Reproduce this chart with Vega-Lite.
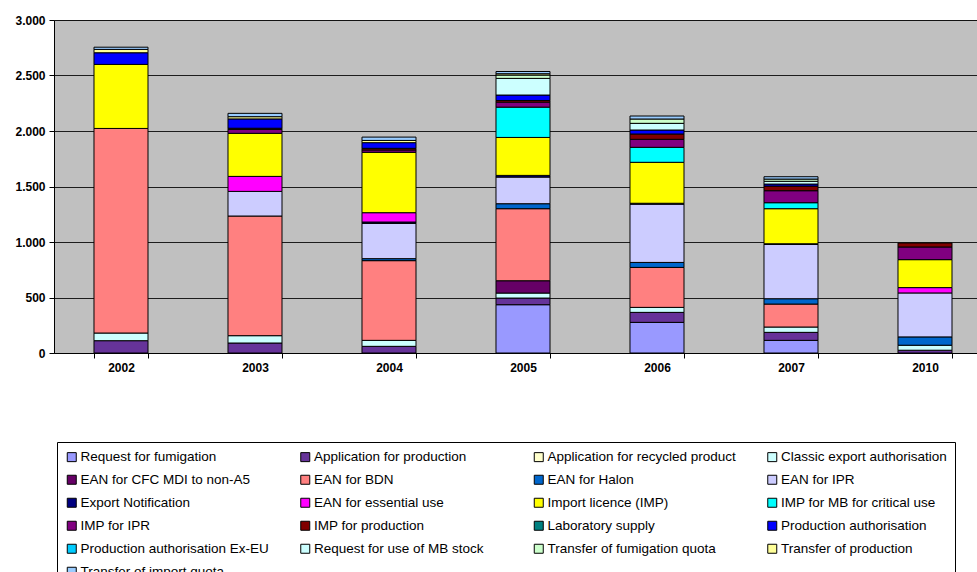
{
  "$schema": "https://vega.github.io/schema/vega-lite/v6.json",
  "width": 938,
  "height": 333,
  "autosize": "none",
  "padding": {"left": 54, "top": 20, "right": 0, "bottom": 219},
  "background": "white",
  "config": {"view": {"fill": "#C0C0C0", "stroke": "#808080"}, "font": "Liberation Sans"},
  "data": {"values": [
    {"year": "2002", "type": "Application for production", "value": 111},
    {"year": "2002", "type": "Classic export authorisation", "value": 69},
    {"year": "2002", "type": "EAN for BDN", "value": 1843},
    {"year": "2002", "type": "Import licence (IMP)", "value": 577},
    {"year": "2002", "type": "Production authorisation", "value": 105},
    {"year": "2002", "type": "Transfer of production", "value": 30},
    {"year": "2002", "type": "Transfer of import quota", "value": 20},
    {"year": "2003", "type": "Application for production", "value": 90},
    {"year": "2003", "type": "Classic export authorisation", "value": 66},
    {"year": "2003", "type": "EAN for BDN", "value": 1078},
    {"year": "2003", "type": "EAN for IPR", "value": 222},
    {"year": "2003", "type": "EAN for essential use", "value": 135},
    {"year": "2003", "type": "Import licence (IMP)", "value": 388},
    {"year": "2003", "type": "IMP for IPR", "value": 36},
    {"year": "2003", "type": "IMP for production", "value": 10},
    {"year": "2003", "type": "Production authorisation", "value": 84},
    {"year": "2003", "type": "Transfer of production", "value": 20},
    {"year": "2003", "type": "Transfer of import quota", "value": 30},
    {"year": "2004", "type": "Application for production", "value": 60},
    {"year": "2004", "type": "Classic export authorisation", "value": 54},
    {"year": "2004", "type": "EAN for BDN", "value": 718},
    {"year": "2004", "type": "EAN for Halon", "value": 18},
    {"year": "2004", "type": "EAN for IPR", "value": 318},
    {"year": "2004", "type": "Export Notification", "value": 12},
    {"year": "2004", "type": "EAN for essential use", "value": 84},
    {"year": "2004", "type": "Import licence (IMP)", "value": 544},
    {"year": "2004", "type": "IMP for IPR", "value": 21},
    {"year": "2004", "type": "IMP for production", "value": 15},
    {"year": "2004", "type": "Production authorisation", "value": 51},
    {"year": "2004", "type": "Transfer of production", "value": 20},
    {"year": "2004", "type": "Transfer of import quota", "value": 30},
    {"year": "2005", "type": "Request for fumigation", "value": 435},
    {"year": "2005", "type": "Application for production", "value": 60},
    {"year": "2005", "type": "Classic export authorisation", "value": 45},
    {"year": "2005", "type": "EAN for CFC MDI to non-A5", "value": 111},
    {"year": "2005", "type": "EAN for BDN", "value": 649},
    {"year": "2005", "type": "EAN for Halon", "value": 45},
    {"year": "2005", "type": "EAN for IPR", "value": 240},
    {"year": "2005", "type": "Export Notification", "value": 15},
    {"year": "2005", "type": "Import licence (IMP)", "value": 342},
    {"year": "2005", "type": "IMP for MB for critical use", "value": 273},
    {"year": "2005", "type": "IMP for IPR", "value": 45},
    {"year": "2005", "type": "IMP for production", "value": 15},
    {"year": "2005", "type": "Production authorisation", "value": 49},
    {"year": "2005", "type": "Request for use of MB stock", "value": 150},
    {"year": "2005", "type": "Transfer of fumigation quota", "value": 30},
    {"year": "2005", "type": "Transfer of production", "value": 12},
    {"year": "2005", "type": "Transfer of import quota", "value": 20},
    {"year": "2006", "type": "Request for fumigation", "value": 276},
    {"year": "2006", "type": "Application for production", "value": 90},
    {"year": "2006", "type": "Classic export authorisation", "value": 45},
    {"year": "2006", "type": "EAN for BDN", "value": 360},
    {"year": "2006", "type": "EAN for Halon", "value": 45},
    {"year": "2006", "type": "EAN for IPR", "value": 525},
    {"year": "2006", "type": "Export Notification", "value": 8},
    {"year": "2006", "type": "Import licence (IMP)", "value": 369},
    {"year": "2006", "type": "IMP for MB for critical use", "value": 135},
    {"year": "2006", "type": "IMP for IPR", "value": 72},
    {"year": "2006", "type": "IMP for production", "value": 48},
    {"year": "2006", "type": "Production authorisation", "value": 36},
    {"year": "2006", "type": "Request for use of MB stock", "value": 60},
    {"year": "2006", "type": "Transfer of fumigation quota", "value": 39},
    {"year": "2006", "type": "Transfer of import quota", "value": 27},
    {"year": "2007", "type": "Request for fumigation", "value": 114},
    {"year": "2007", "type": "Application for production", "value": 72},
    {"year": "2007", "type": "Classic export authorisation", "value": 48},
    {"year": "2007", "type": "EAN for BDN", "value": 207},
    {"year": "2007", "type": "EAN for Halon", "value": 48},
    {"year": "2007", "type": "EAN for IPR", "value": 490},
    {"year": "2007", "type": "Export Notification", "value": 5},
    {"year": "2007", "type": "Import licence (IMP)", "value": 316},
    {"year": "2007", "type": "IMP for MB for critical use", "value": 54},
    {"year": "2007", "type": "IMP for IPR", "value": 108},
    {"year": "2007", "type": "IMP for production", "value": 42},
    {"year": "2007", "type": "Production authorisation", "value": 18},
    {"year": "2007", "type": "Request for use of MB stock", "value": 25},
    {"year": "2007", "type": "Transfer of fumigation quota", "value": 20},
    {"year": "2007", "type": "Transfer of import quota", "value": 21},
    {"year": "2010", "type": "Application for production", "value": 25},
    {"year": "2010", "type": "Classic export authorisation", "value": 45},
    {"year": "2010", "type": "EAN for Halon", "value": 75},
    {"year": "2010", "type": "EAN for IPR", "value": 396},
    {"year": "2010", "type": "EAN for essential use", "value": 48},
    {"year": "2010", "type": "Import licence (IMP)", "value": 252},
    {"year": "2010", "type": "IMP for IPR", "value": 114},
    {"year": "2010", "type": "IMP for production", "value": 36}
  ]},
  "transform": [
    {"calculate": "indexof(['Request for fumigation', 'Application for production', 'Application for recycled product', 'Classic export authorisation', 'EAN for CFC MDI to non-A5', 'EAN for BDN', 'EAN for Halon', 'EAN for IPR', 'Export Notification', 'EAN for essential use', 'Import licence (IMP)', 'IMP for MB for critical use', 'IMP for IPR', 'IMP for production', 'Laboratory supply', 'Production authorisation', 'Production authorisation Ex-EU', 'Request for use of MB stock', 'Transfer of fumigation quota', 'Transfer of production', 'Transfer of import quota'], datum.type)", "as": "stackOrder"}
  ],
  "mark": {"type": "bar", "stroke": "#000", "strokeWidth": 1},
  "encoding": {
    "x": {
      "field": "year", "type": "nominal",
      "scale": {"paddingInner": 0.597, "paddingOuter": 0.2985},
      "axis": {"title": null, "labelAngle": 0, "labelFont": "Liberation Sans", "labelFontWeight": "bold", "labelFontSize": 12, "labelColor": "#000", "domainColor": "#000", "tickColor": "#000", "tickBand": "extent", "tickSize": 5, "labelPadding": 4}
    },
    "y": {
      "field": "value", "type": "quantitative", "stack": "zero",
      "scale": {"domain": [0, 3000], "nice": false},
      "axis": {"title": null, "values": [0, 500, 1000, 1500, 2000, 2500, 3000], "labelExpr": "replace(format(datum.value, ','), ',', '.')", "labelFont": "Liberation Sans", "labelFontWeight": "bold", "labelFontSize": 12, "labelColor": "#000", "gridColor": "#000", "gridOpacity": 0.85, "domainColor": "#000", "tickColor": "#000", "tickSize": 5, "labelPadding": 4}
    },
    "order": {"field": "stackOrder", "type": "quantitative", "sort": "ascending"},
    "color": {
      "field": "type", "type": "nominal",
      "scale": {
        "domain": ["Request for fumigation", "Application for production", "Application for recycled product", "Classic export authorisation", "EAN for CFC MDI to non-A5", "EAN for BDN", "EAN for Halon", "EAN for IPR", "Export Notification", "EAN for essential use", "Import licence (IMP)", "IMP for MB for critical use", "IMP for IPR", "IMP for production", "Laboratory supply", "Production authorisation", "Production authorisation Ex-EU", "Request for use of MB stock", "Transfer of fumigation quota", "Transfer of production", "Transfer of import quota"],
        "range": ["#9999FF", "#663399", "#FFFFCC", "#CCFFFF", "#660066", "#FF8080", "#0066CC", "#CCCCFF", "#000080", "#FF00FF", "#FFFF00", "#00FFFF", "#800080", "#800000", "#008080", "#0000FF", "#00CCFF", "#CCFFFF", "#CCFFCC", "#FFFF99", "#99CCFF"]
      },
      "legend": {
        "orient": "none", "legendX": 3, "legendY": 422, "direction": "horizontal", "columns": 4, "gridAlign": "all",
        "title": null, "symbolType": "square", "symbolSize": 81, "symbolStrokeColor": "#000", "symbolStrokeWidth": 1, "symbolOpacity": 1,
        "labelFont": "Liberation Sans", "labelFontSize": 13.5, "labelColor": "#000", "labelOffset": 2, "labelLimit": 300,
        "rowPadding": 8, "columnPadding": 29.5, "padding": 8, "strokeColor": "#000", "fillColor": "white"
      }
    }
  }
}
